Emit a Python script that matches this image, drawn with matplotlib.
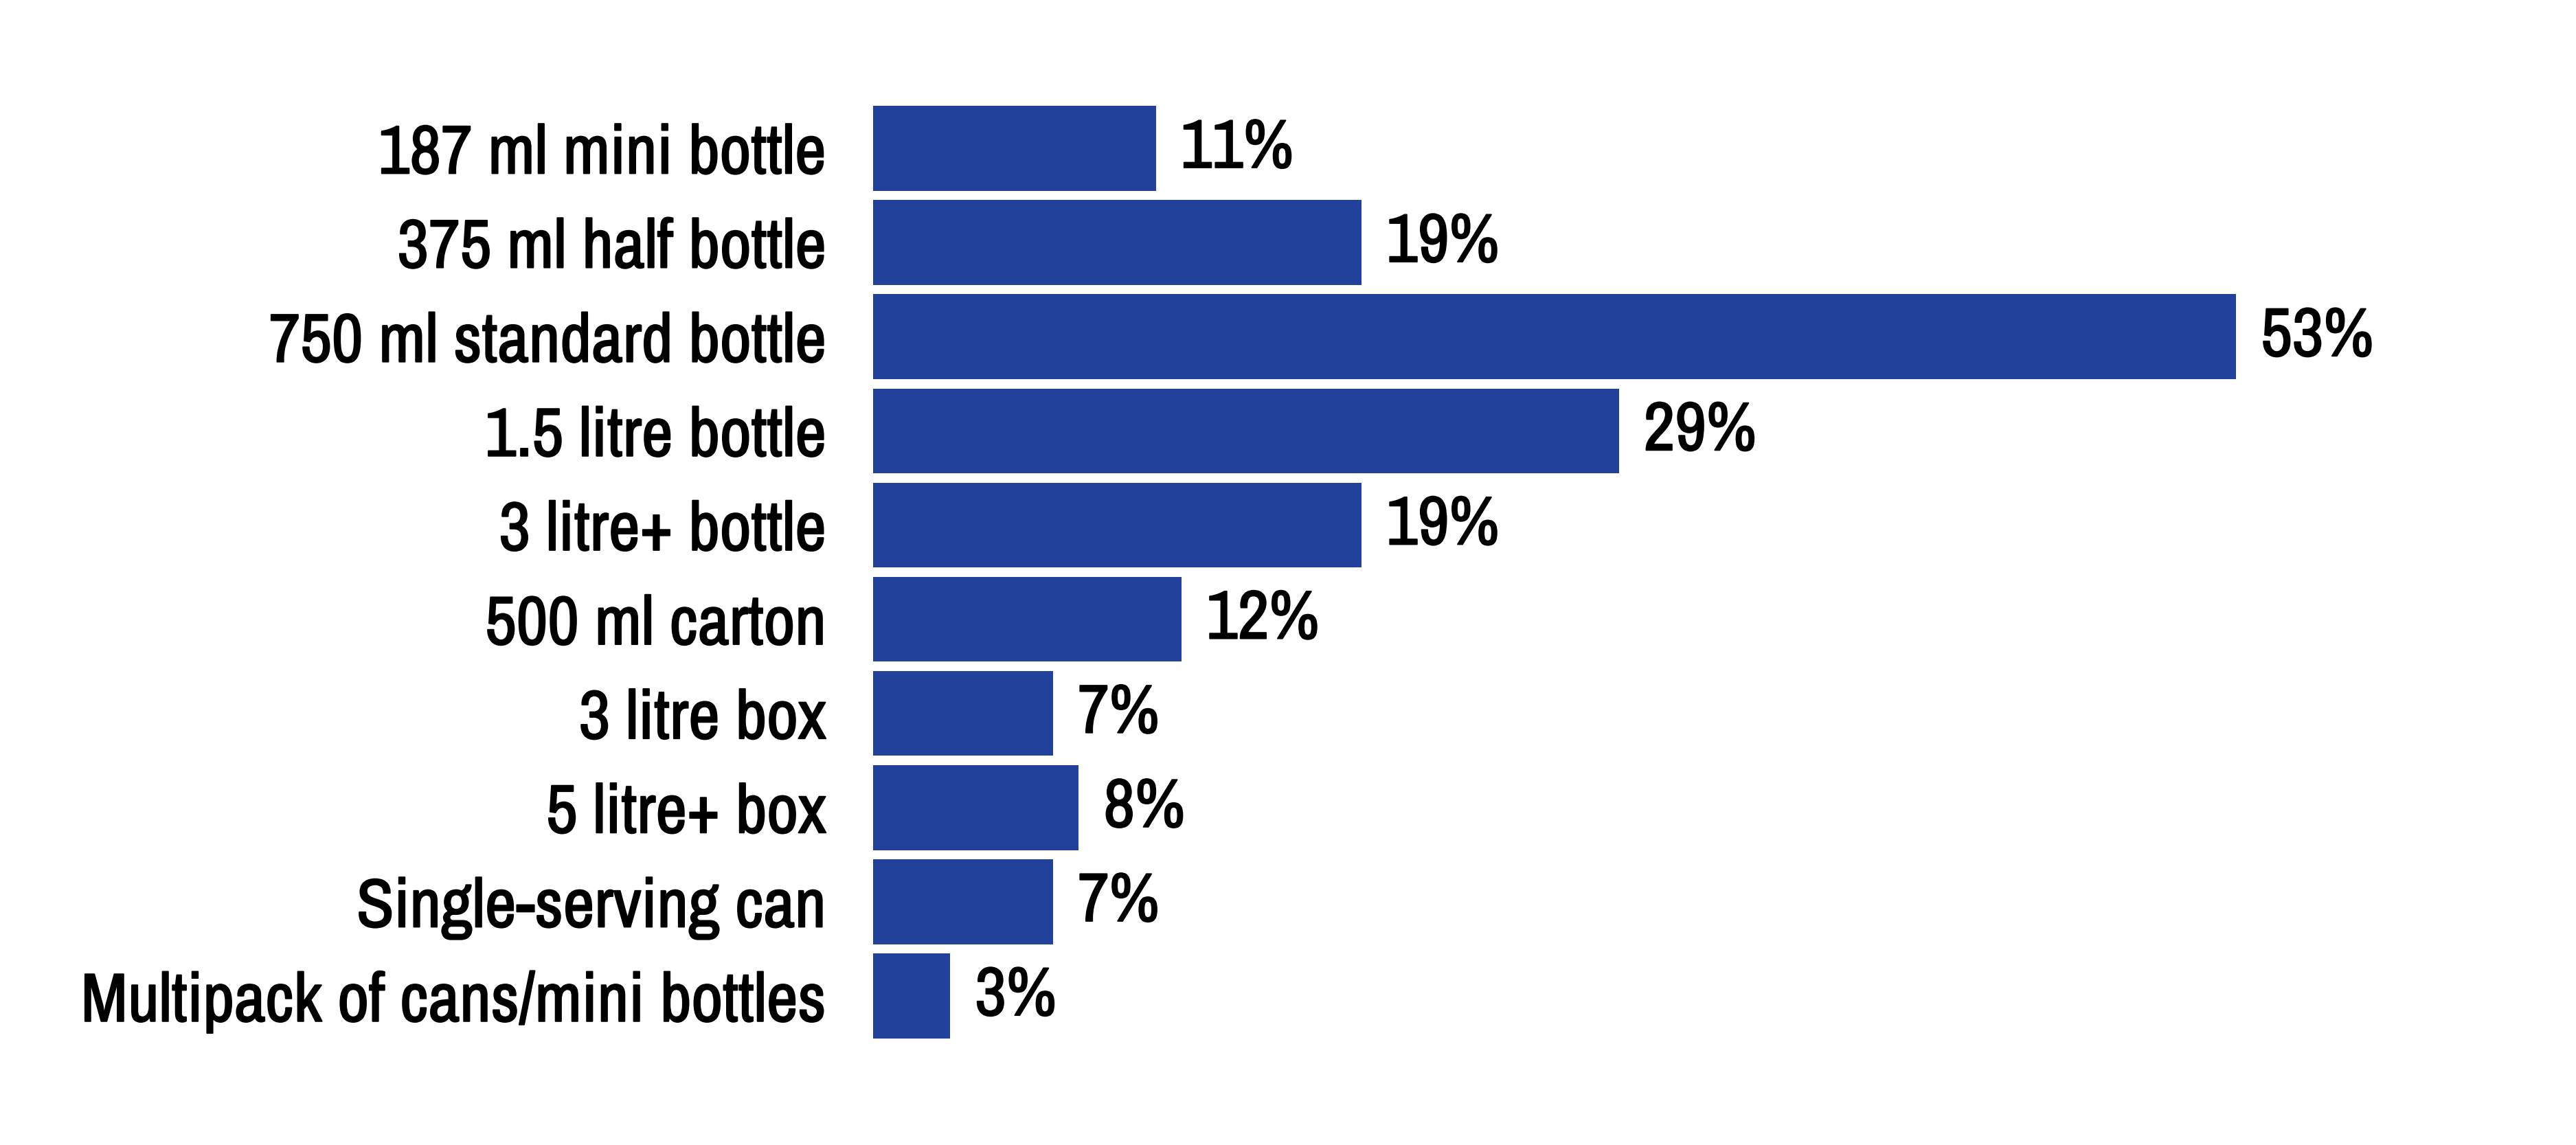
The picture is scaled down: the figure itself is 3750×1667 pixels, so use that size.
import matplotlib
matplotlib.use("Agg")
import matplotlib.pyplot as plt
import matplotlib.patheffects as pe

# package formats and share of respondents (%)
formats = ["187 ml mini bottle", "375 ml half bottle", "750 ml standard bottle",
           "1.5 litre bottle", "3 litre+ bottle", "500 ml carton", "3 litre box",
           "5 litre+ box", "Single-serving can", "Multipack of cans/mini bottles"]
shares = [11, 19, 53, 29, 19, 12, 7, 8, 7, 3]

bar_color = "#22419A"
plt.rcParams['font.family'] = ['Archivo Narrow', 'DejaVu Sans']
plt.rcParams['font.weight'] = 'normal'

# slightly heavier strokes than the regular face
thicker = [pe.withStroke(linewidth=1.4, foreground="black")]

fig = plt.figure(figsize=(37.5, 16.67), dpi=100)
ax = fig.add_axes([0.3389, 0.0890, 0.599, 0.8226])

ypos = range(len(formats))
ax.barh(ypos, shares, height=0.9, color=bar_color)

for y, v in zip(ypos, shares):
    ax.annotate(f"{v}%", (v, y), xytext=(26, 0), textcoords="offset points",
                ha="left", va="center", fontsize=72, color="black",
                path_effects=thicker)

ax.set_xlim(0, 60)
ax.set_ylim(len(formats) - 0.5, -0.5)
ax.set_yticks(list(ypos))
ax.set_yticklabels(formats, fontsize=72)
for lbl in ax.get_yticklabels():
    lbl.set_path_effects(thicker)
ax.tick_params(axis="y", length=0, pad=49)
ax.set_xticks([])
for s in ax.spines.values():
    s.set_visible(False)

fig.savefig("out.png", dpi=100, facecolor="white")
